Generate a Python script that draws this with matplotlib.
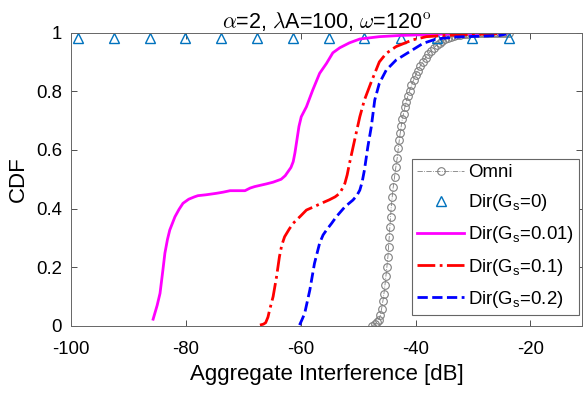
import matplotlib.pyplot as plt
import numpy as np

plt.rcParams['font.family'] = ['Liberation Sans', 'DejaVu Sans']
plt.rcParams['mathtext.fontset'] = 'custom'
plt.rcParams['mathtext.rm'] = 'Liberation Sans'
plt.rcParams['mathtext.it'] = 'Liberation Sans:italic'
plt.rcParams['axes.unicode_minus'] = False

# Omni (cercles gris)
omni_x = [-47.53, -47.13, -46.73, -46.38, -46.14, -45.9, -45.68, -45.5, -45.33, -45.16,
          -44.99, -44.81, -44.7, -44.58, -44.47, -44.35, -44.23, -44.06, -43.88, -43.65,
          -43.42, -43.18, -43.0, -42.83, -42.66, -42.49, -42.31, -42.09, -41.86, -41.62,
          -41.34, -41.04, -40.7, -40.35, -40.0, -39.6, -39.19, -38.73, -38.26, -37.79,
          -37.3, -36.8, -36.3, -35.8, -35.3, -34.8, -34.3, -33.8, -33.3, -32.8,
          -32.3, -31.8, -31.3, -30.8, -30.3, -29.8, -29.3, -28.8, -28.3, -27.8,
          -27.3, -26.8, -26.3, -25.8, -25.3, -24.8, -24.3, -23.8]
omni_y = [0.0, 0.005, 0.012, 0.021, 0.036, 0.059, 0.085, 0.11, 0.138, 0.169,
          0.2, 0.235, 0.269, 0.303, 0.337, 0.371, 0.405, 0.44, 0.474, 0.508,
          0.542, 0.574, 0.605, 0.633, 0.658, 0.681, 0.704, 0.724, 0.745, 0.764,
          0.783, 0.801, 0.82, 0.838, 0.854, 0.87, 0.886, 0.9, 0.914, 0.927,
          0.938, 0.948, 0.957, 0.965, 0.971, 0.977, 0.981, 0.985, 0.988, 0.99,
          0.992, 0.994, 0.995, 0.996, 0.997, 0.997, 0.998, 0.998, 0.998, 0.998,
          0.999, 0.999, 0.999, 0.999, 0.999, 1.0, 1.0, 1.0]

# Dir(Gs=0) (triangles)
dir0_x = [-98.7, -92.5, -86.3, -80.1, -73.9, -67.6, -61.4, -55.1, -48.9, -42.6, -36.3, -30.1, -23.8]
dir0_y = [0.982] * 13

# Dir(Gs=0.01)
d001_x = [-85.7, -85.0, -84.5, -84.0, -83.65, -83.2, -82.8, -82.3, -81.9, -81.2,
          -80.5, -79.5, -78.5, -77.9, -76.5, -74.7, -73.5, -72.3, -69.7, -68.8,
          -68.0, -66.0, -64.8, -63.4, -62.7, -62.2, -61.7, -61.3, -61.0, -60.75,
          -60.3, -59.9, -59.0, -57.9, -56.7, -55.5, -54.4, -53.2, -51.5, -49.7,
          -46.3, -42.8, -36.4, -30.0, -24.0]
d001_y = [0.023, 0.07, 0.111, 0.19, 0.248, 0.295, 0.327, 0.352, 0.372, 0.397,
          0.418, 0.432, 0.44, 0.444, 0.447, 0.452, 0.456, 0.461, 0.461, 0.47,
          0.475, 0.484, 0.49, 0.5, 0.512, 0.526, 0.54, 0.56, 0.59, 0.622,
          0.68, 0.713, 0.747, 0.804, 0.861, 0.895, 0.931, 0.948, 0.965, 0.978,
          0.986, 0.99, 0.994, 0.997, 0.999]

# Dir(Gs=0.1)
d01_x = [-67.1, -66.5, -66.1, -65.7, -65.4, -64.8, -64.2, -63.7, -63.3, -62.8,
         -62.0, -61.3, -60.0, -59.0, -57.5, -56.4, -55.0, -54.0, -53.2, -52.7,
         -52.3, -51.9, -51.5, -50.6, -49.7, -48.9, -47.7, -46.3, -45.1, -43.4,
         -40.5, -38.1, -34.0, -29.0, -24.0]
d01_y = [0.003, 0.006, 0.011, 0.03, 0.055, 0.1, 0.168, 0.236, 0.275, 0.304,
         0.33, 0.35, 0.375, 0.395, 0.408, 0.418, 0.43, 0.44, 0.452, 0.47,
         0.486, 0.515, 0.554, 0.634, 0.713, 0.77, 0.832, 0.9, 0.929, 0.952,
         0.975, 0.986, 0.991, 0.994, 0.997]

# Dir(Gs=0.2)
d02_x = [-60.2, -59.8, -59.3, -58.4, -57.6, -56.7, -56.1, -55.5, -54.6, -53.8,
         -52.3, -50.9, -50.2, -49.7, -49.3, -48.9, -48.3, -47.7, -47.1, -46.3,
         -45.1, -43.4, -41.0, -38.7, -36.4, -33.0, -28.0, -25.4, -24.2]
d02_y = [0.003, 0.02, 0.043, 0.123, 0.213, 0.282, 0.31, 0.327, 0.35, 0.372,
         0.406, 0.429, 0.445, 0.463, 0.49, 0.531, 0.611, 0.679, 0.77, 0.827,
         0.872, 0.906, 0.935, 0.963, 0.978, 0.985, 0.988, 0.99, 0.995]

fig = plt.figure(figsize=(5.85, 3.97), dpi=100)
ax = fig.add_axes([0.1214, 0.179, 0.8735, 0.739])

ax.plot(omni_x, omni_y, linestyle='-.', color='#808080', linewidth=0.6,
        marker='o', markersize=5.5, markerfacecolor='none',
        markeredgecolor='#808080', markeredgewidth=0.8, label='Omni')
ax.plot(dir0_x, dir0_y, linestyle='none', marker='^', markersize=7.5,
        markerfacecolor='none', markeredgecolor='#0072BD', markeredgewidth=1.0,
        clip_on=False, label=r'Dir(G$_\mathrm{s}$=0)')
ax.plot(d001_x, d001_y, '-', color='magenta', linewidth=2, label=r'Dir(G$_\mathrm{s}$=0.01)')
ax.plot(d01_x, d01_y, '-.', color='red', linewidth=2, label=r'Dir(G$_\mathrm{s}$=0.1)')
ax.plot(d02_x, d02_y, '--', color='blue', linewidth=2, label=r'Dir(G$_\mathrm{s}$=0.2)')

ax.set_xlim(-100, -11)
ax.set_ylim(0, 1)
ax.set_xticks([-100, -80, -60, -40, -20])
ax.set_yticks([0, 0.2, 0.4, 0.6, 0.8, 1])
ax.set_yticklabels(['0', '0.2', '0.4', '0.6', '0.8', '1'])
ax.tick_params(direction='in', top=True, right=True, length=4, width=0.6,
               labelsize=13.4, color='#333333')
ax.tick_params(axis='x', pad=11)
ax.tick_params(axis='y', pad=6.5)
for s in ax.spines.values():
    s.set_color('#666666')
    s.set_linewidth(0.7)

ax.set_xlabel('Aggregate Interference [dB]', fontsize=16, labelpad=4)
ax.set_ylabel('CDF', fontsize=16, labelpad=5)
ax.set_title(r'$\alpha$=2, $\lambda$A=100, $\omega$=120$^\mathrm{o}$',
             fontsize=15.5, pad=3, math_fontfamily='cm')

leg = ax.legend(loc='lower left', bbox_to_anchor=(0.667, 0.036), borderaxespad=0,
                fontsize=13.4, handlelength=2.5, handletextpad=0.2,
                labelspacing=0.6, borderpad=0.3, fancybox=False, framealpha=1)
leg.get_frame().set_edgecolor('#666666')
leg.get_frame().set_linewidth(0.8)

plt.savefig('out.png', dpi=100)
